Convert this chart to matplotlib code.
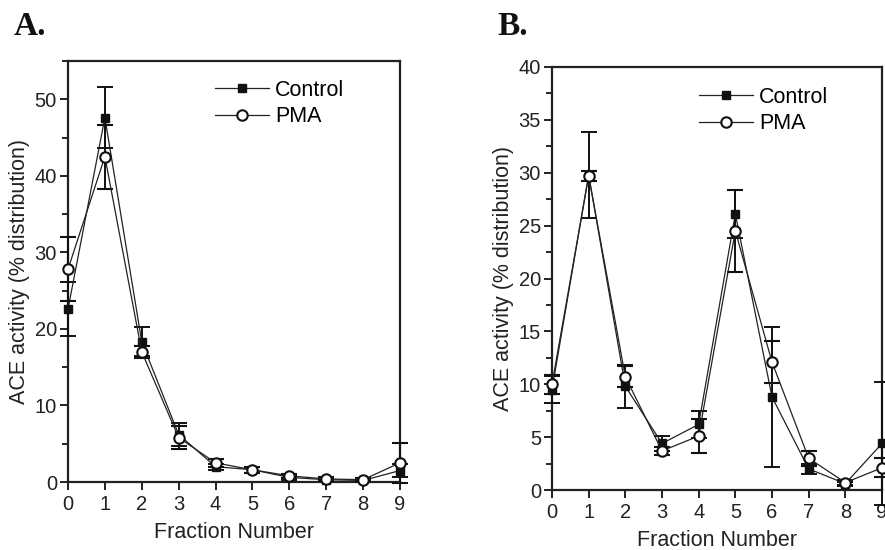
import matplotlib
matplotlib.use("Agg")
import matplotlib.pyplot as plt
from matplotlib.ticker import MultipleLocator
from matplotlib.lines import Line2D

plt.rcParams['font.family'] = ['Liberation Sans', 'DejaVu Sans']

fractions = [0, 1, 2, 3, 4, 5, 6, 7, 8, 9]

# panel A
a_control = [22.6, 47.6, 18.3, 6.2, 2.0, 1.6, 0.6, 0.3, 0.2, 1.5]
a_control_err = [3.5, 4.0, 1.9, 1.5, 0.4, 0.4, 0.3, 0.2, 0.2, 0.8]
a_pma = [27.8, 42.5, 17.0, 5.8, 2.5, 1.6, 0.8, 0.4, 0.3, 2.5]
a_pma_err = [4.2, 4.2, 0.8, 1.5, 0.5, 0.4, 0.3, 0.2, 0.2, 2.6]

# panel B
b_control = [9.5, 29.8, 9.8, 4.4, 6.2, 26.1, 8.8, 2.0, 0.6, 4.4]
b_control_err = [1.3, 4.1, 2.0, 0.7, 1.3, 2.3, 6.6, 0.5, 0.2, 5.8]
b_pma = [10.0, 29.7, 10.7, 3.7, 5.1, 24.5, 12.1, 3.0, 0.7, 2.1]
b_pma_err = [0.9, 0.5, 1.0, 0.4, 1.6, 3.9, 2.0, 0.7, 0.2, 0.9]

W, H = 885, 550
fig = plt.figure(figsize=(W / 100, H / 100), dpi=100)

def px_axes(left, top, right, bottom):
    return fig.add_axes([left / W, 1 - bottom / H, (right - left) / W, (bottom - top) / H])

axA = px_axes(68, 61, 400, 482)
axB = px_axes(552, 67, 882, 490)

ctrl_style = dict(color='#222222', lw=0.9, marker='s', ms=6, mfc='#111111', mec='#111111')
pma_style = dict(color='#222222', lw=0.9, marker='o', ms=7.5, mfc='white', mec='#111111', mew=1.5)


def draw(ax, ctrl, ctrl_err, pma, pma_err, ymax, major, minor, leg_xy):
    ax.errorbar(fractions, ctrl, yerr=ctrl_err, ecolor='#111111', elinewidth=1.4,
                capsize=5.5, capthick=1.4, clip_on=False, zorder=3, **ctrl_style)
    ax.errorbar(fractions, pma, yerr=pma_err, ecolor='#111111', elinewidth=1.4,
                capsize=5.5, capthick=1.4, clip_on=False, zorder=4, **pma_style)
    ax.set_xlim(0, 9)
    ax.set_ylim(0, ymax)
    ax.xaxis.set_major_locator(MultipleLocator(1))
    ax.yaxis.set_major_locator(MultipleLocator(major))
    ax.yaxis.set_minor_locator(MultipleLocator(minor))
    ax.tick_params(axis='both', which='major', direction='out', length=6,
                   width=1.4, labelsize=14.5, color='#222222', labelcolor='#222222')
    ax.tick_params(axis='y', which='minor', direction='out', length=4, width=1.2)
    ax.tick_params(axis='x', pad=3)
    ax.tick_params(axis='y', pad=2)
    for s in ax.spines.values():
        s.set_linewidth(1.6)
        s.set_color('#222222')
    ax.set_xlabel('Fraction Number', fontsize=15.5, color='#222222', labelpad=6)
    ax.set_ylabel('ACE activity (% distribution)', fontsize=15.5, color='#222222', labelpad=3)
    handles = [Line2D([], [], **ctrl_style), Line2D([], [], **pma_style)]
    ax.legend(handles, ['Control', 'PMA'], loc='upper left',
              bbox_to_anchor=(leg_xy[0] / W, 1 - leg_xy[1] / H),
              bbox_transform=fig.transFigure, frameon=False, fontsize=15.5,
              handlelength=2.5, handletextpad=0.3, labelspacing=0.25,
              borderpad=0, borderaxespad=0)


draw(axA, a_control, a_control_err, a_pma, a_pma_err, 55, 10, 5, (215, 80))
draw(axB, b_control, b_control_err, b_pma, b_pma_err, 40, 5, 2.5, (699, 87))

fig.text(14 / W, 1 - 35 / H, 'A.', family='Liberation Serif', fontweight='bold',
         fontsize=24, va='baseline', color='#111111')
fig.text(497 / W, 1 - 35 / H, 'B.', family='Liberation Serif', fontweight='bold',
         fontsize=24, va='baseline', color='#111111')

fig.savefig('out.png', dpi=100)
